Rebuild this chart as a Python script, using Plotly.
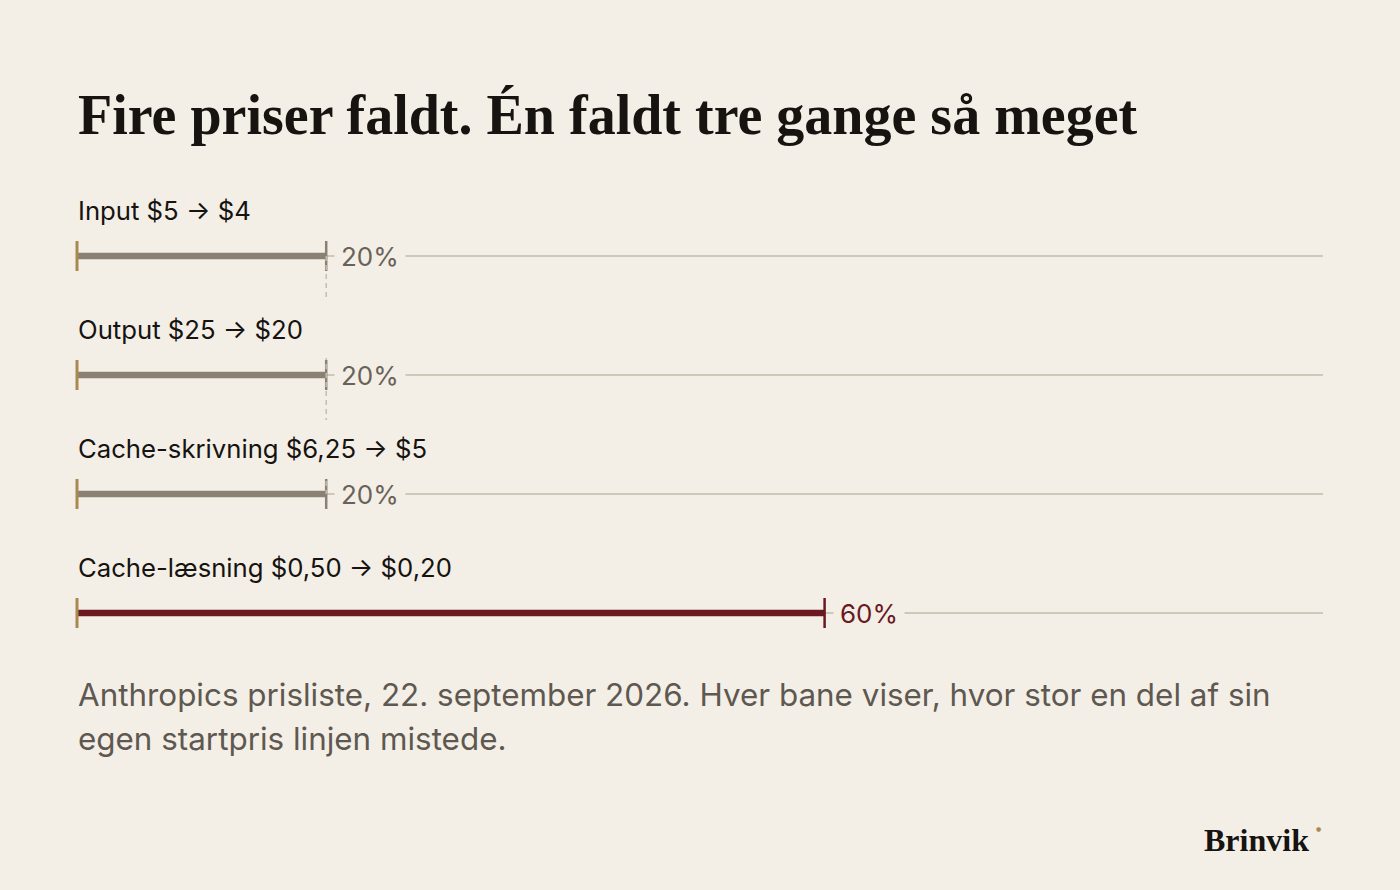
import plotly.graph_objects as go

# ---- data ----
labels = ["Input $5 → $4", "Output $25 → $20", "Cache-skrivning $6,25 → $5", "Cache-læsning $0,50 → $0,20"]
old_prices = [5, 25, 6.25, 0.50]
new_prices = [4, 20, 5, 0.20]
drops = [round((o - n) / o * 100) for o, n in zip(old_prices, new_prices)]
highlight = [False, False, False, True]

title = "Fire priser faldt. Én faldt tre gange så meget"
subtitle_lines = ["Anthropics prisliste, 22. september 2026. Hver bane viser, hvor stor en del af sin",
                  "egen startpris linjen mistede."]
brand = "Brinvik"

# ---- style ----
BG = "#f3efe7"
GREY = "#8a8173"
RED = "#6b1823"
GOLD = "#a8894f"
TRACK = "#cfc8b8"
DASH = "#c4bcab"
PCT_GREY = "#6a6258"
INK = "#161310"
SUB = "#5f5850"

W, H = 1400, 890
X0_PX, X100_PX = 77, 1323          # pixel span of 0..100 %
PAD = 10                            # extra plot room so ticks at 0 are not clipped
ML, MR = X0_PX - PAD, W - X100_PX - PAD
ppu = (X100_PX - X0_PX) / 100.0
ROW0, ROWSTEP = 256, 119
px = 1.0 / ROWSTEP
y_top = -ROW0 / ROWSTEP
y_bot = (H - ROW0) / ROWSTEP

fig = go.Figure()
rows = list(range(len(labels)))

def seg(x, y, color, width, dash=None):
    fig.add_trace(go.Scatter(x=x, y=y, mode="lines",
                             line=dict(color=color, width=width, dash=dash),
                             hoverinfo="skip", showlegend=False))

for i in rows:
    seg([0, 100], [i, i], TRACK, 2)
for i in rows:
    seg([0, drops[i]], [i, i], RED if highlight[i] else GREY, 6.5)
for i in rows:
    seg([0, 0], [i - 15 * px, i + 15 * px], GOLD, 3)
for i in rows:
    seg([drops[i], drops[i]], [i - 15 * px, i + 15 * px], RED if highlight[i] else GREY, 2.5)
same = [i for i in rows if drops[i] == drops[0]]
seg([drops[0], drops[0]], [same[0], same[-1]], DASH, 1.5, "5px,4px")

shapes = []
annotations = []
for i in rows:
    shapes.append(dict(type="rect", xref="x", yref="y", x0=-0.7, x1=100.7,
                       y0=i - 74 * px, y1=i - 17 * px, fillcolor=BG, line=dict(width=0), layer="above"))
    annotations.append(dict(x=0, y=i - 46 * px, xref="x", yref="y", text=labels[i],
                            showarrow=False, xanchor="left", yanchor="middle", xshift=-1,
                            font=dict(family="Inter", size=25.7, color=INK)))
    annotations.append(dict(x=drops[i], y=i, xref="x", yref="y", text=f"{drops[i]}%",
                            showarrow=False, xanchor="left", yanchor="middle", xshift=8,
                            bgcolor=BG, borderpad=6,
                            font=dict(family="Inter", size=26, color=RED if highlight[i] else PCT_GREY)))

def py(p):
    return 1 - p / H

annotations.append(dict(x=0, y=py(115), xref="x domain", yref="paper", text=f"<b>{title}</b>",
                        showarrow=False, xanchor="left", yanchor="middle", xshift=PAD - 1,
                        font=dict(family="Liberation Serif", size=56, color=INK)))
for k, line in enumerate(subtitle_lines):
    annotations.append(dict(x=0, y=py(695 + 44 * k), xref="x domain", yref="paper", text=line,
                            showarrow=False, xanchor="left", yanchor="middle", align="left",
                            xshift=PAD - 1,
                            font=dict(family="Inter", size=31.4, color=SUB)))
annotations.append(dict(x=1, y=py(840), xref="x domain", yref="paper", text=f"<b>{brand}</b>",
                        showarrow=False, xanchor="right", yanchor="middle", xshift=-PAD - 12,
                        font=dict(family="Liberation Serif", size=32, color=INK)))
annotations.append(dict(x=1, y=py(828), xref="x domain", yref="paper", text="●",
                        showarrow=False, xanchor="center", yanchor="middle", xshift=-PAD - 5,
                        font=dict(family="DejaVu Sans", size=6, color=GOLD)))

fig.update_layout(
    width=W, height=H,
    paper_bgcolor=BG, plot_bgcolor=BG,
    margin=dict(l=ML, r=MR, t=0, b=0),
    xaxis=dict(range=[-PAD / ppu, 100 + PAD / ppu], visible=False, fixedrange=True),
    yaxis=dict(range=[y_bot, y_top], visible=False, fixedrange=True),
    shapes=shapes, annotations=annotations,
    showlegend=False,
)

fig.write_html("out.html", config={"displayModeBar": False},
               post_script="document.body.style.margin='0';document.body.style.background='%s';" % BG)
